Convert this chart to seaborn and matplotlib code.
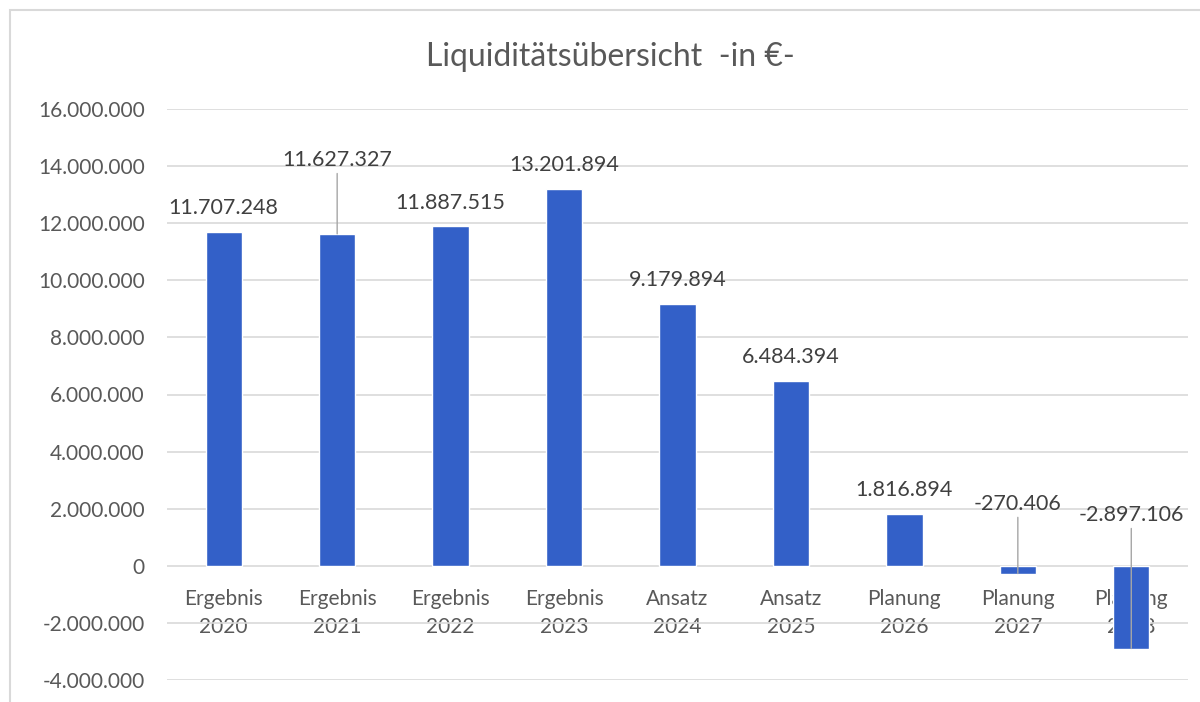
import numpy as np
import pandas as pd
import matplotlib
matplotlib.use("Agg")
import matplotlib.pyplot as plt
from matplotlib.patches import Rectangle
import seaborn as sns

# Data
kategorien = ["Ergebnis\n2020", "Ergebnis\n2021", "Ergebnis\n2022", "Ergebnis\n2023",
              "Ansatz\n2024", "Ansatz\n2025", "Planung\n2026", "Planung\n2027", "Planung\n2028"]
werte = [11707248, 11627327, 11887515, 13201894, 9179894, 6484394, 1816894, -270406, -2897106]
y_ticks = [-4000000, -2000000, 0, 2000000, 4000000, 6000000, 8000000, 10000000, 12000000, 14000000, 16000000]

df = pd.DataFrame({"Kategorie": kategorien, "Wert": werte})


def de_format(v):
    return f"{v:,.0f}".replace(",", ".")


sns.set_style("white")
plt.rcParams["font.family"] = ["Lato", "DejaVu Sans"]

grau = "#595959"
blau = "#3360C8"

fig = plt.figure(figsize=(12, 7.02), dpi=100)
ax = fig.add_axes([167 / 1200, 1 - 680 / 702, (1188 - 167) / 1200, 571 / 702])

sns.barplot(data=df, x="Kategorie", y="Wert", color=blau, width=0.32, saturation=1, ax=ax, zorder=3)

ax.set_ylim(-4000000, 16000000)
ax.set_xlim(-0.5, len(kategorien) - 0.5)
ax.set_yticks(y_ticks)
ax.set_yticklabels([de_format(t) for t in y_ticks])
ax.yaxis.grid(True, color="#D9D9D9", linewidth=1.2, zorder=0)
ax.set_axisbelow(True)
ax.set_xlabel("")
ax.set_ylabel("")

for s in ["top", "right", "left"]:
    ax.spines[s].set_visible(False)
ax.spines["bottom"].set_position(("data", 0))
ax.spines["bottom"].set_visible(False)

ax.tick_params(axis="y", length=0, pad=16, labelsize=15, labelcolor=grau)
ax.tick_params(axis="x", length=0, pad=17, labelsize=15, labelcolor=grau)
for lbl in ax.get_xticklabels():
    lbl.set_linespacing(1.45)

# Data labels (some with leader lines, as in the reference)
leader = {1: 53, 7: 50, 8: 96}
for i, v in enumerate(werte):
    if i in leader:
        ax.annotate(de_format(v), xy=(i, v), xytext=(0, leader[i]), textcoords="offset points",
                    ha="center", va="center", fontsize=15.5, color="#404040",
                    arrowprops=dict(arrowstyle="-", color="#A6A6A6", lw=1, shrinkA=0, shrinkB=0),
                    zorder=4)
    else:
        ax.annotate(de_format(v), xy=(i, v), xytext=(0, 10), textcoords="offset points",
                    ha="center", va="bottom", fontsize=15.5, color="#404040", zorder=4)

fig.text(610 / 1200, 1 - 57 / 702, "Liquiditätsübersicht  -in €-", ha="center", va="center",
         fontsize=23, color=grau)

# light chart-area border (cropped on right and bottom like the reference)
fig.patches.append(Rectangle((10 / 1200, -0.1), 1.2, 1.1 - 10 / 702, transform=fig.transFigure,
                             fill=False, edgecolor="#D9D9D9", linewidth=1.5))

fig.savefig("out.png", dpi=100)
